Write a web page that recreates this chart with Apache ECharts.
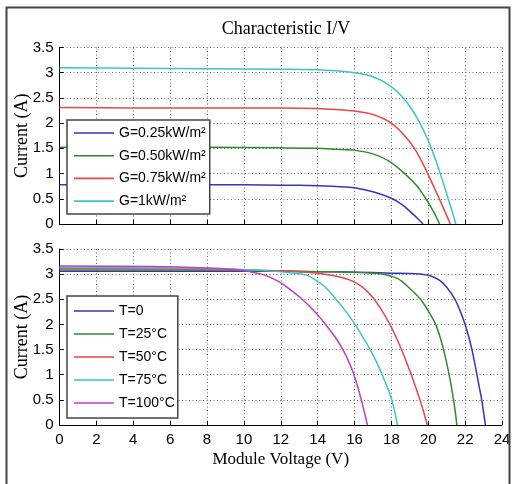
<!DOCTYPE html>
<html>
<head>
<meta charset="utf-8">
<script src="https://cdn.jsdelivr.net/npm/echarts@6/dist/echarts.min.js"></script>
<style>html,body{margin:0;padding:0;background:#fff}#c{width:512px;height:484px}</style>
</head>
<body>
<div id="c"></div>
<script>
// ---- data (V, I) pairs ----
const xTicks = [0,2,4,6,8,10,12,14,16,18,20,22,24];
const irrNames = ['G=0.25kW/m²','G=0.50kW/m²','G=0.75kW/m²','G=1kW/m²'];
const tempNames = ['T=0','T=25°C','T=50°C','T=75°C','T=100°C'];

const g025 = [[0,0.78],[4,0.78],[8,0.78],[12,0.77],[14,0.76],[15,0.745],[16,0.72],[17,0.64],[18,0.51],[18.6,0.38],[19.1,0.22],[19.45,0.1],[19.72,0]];
const g050 = [[0,1.52],[4,1.52],[8,1.52],[12,1.51],[14,1.5],[15,1.48],[16,1.46],[17,1.39],[17.85,1.25],[18.72,1.0],[19.4,0.75],[19.87,0.5],[20.28,0.25],[20.62,0]];
const g075 = [[0,2.31],[4,2.3],[8,2.3],[12,2.3],[14,2.29],[15,2.27],[16,2.24],[17,2.17],[18,2.0],[18.72,1.75],[19.25,1.5],[19.63,1.25],[19.97,1.0],[20.29,0.75],[20.6,0.5],[20.9,0.25],[21.2,0]];
const g100 = [[0,3.1],[4,3.09],[8,3.08],[12,3.07],[14,3.06],[15,3.04],[16,3.0],[17,2.92],[17.9,2.75],[18.65,2.5],[19.15,2.25],[19.55,2.0],[19.88,1.75],[20.17,1.5],[20.42,1.25],[20.65,1.0],[20.87,0.75],[21.08,0.5],[21.3,0.25],[21.5,0]];

const t0   = [[0,3.06],[6,3.06],[10,3.06],[14,3.05],[16,3.04],[18,3.02],[19.3,3.01],[20.1,2.97],[20.6,2.88],[21.0,2.74],[21.45,2.5],[21.75,2.25],[22.0,2.0],[22.2,1.75],[22.37,1.5],[22.51,1.25],[22.64,1.0],[22.77,0.75],[22.9,0.5],[23.0,0.25],[23.1,0]];
const t25  = [[0,3.08],[6,3.08],[10,3.07],[14,3.05],[16,3.04],[17,3.02],[17.7,2.99],[18.35,2.91],[18.9,2.75],[19.58,2.5],[20.03,2.25],[20.4,2.0],[20.64,1.75],[20.83,1.5],[20.99,1.25],[21.13,1.0],[21.26,0.75],[21.37,0.5],[21.47,0.25],[21.55,0]];
const t50  = [[0,3.11],[6,3.1],[10,3.08],[13,3.05],[14,3.02],[14.9,2.97],[15.7,2.89],[16.4,2.75],[17.07,2.5],[17.53,2.25],[17.92,2.0],[18.25,1.75],[18.55,1.5],[18.82,1.25],[19.08,1.0],[19.32,0.75],[19.55,0.5],[19.76,0.25],[19.95,0]];
const t75  = [[0,3.13],[6,3.12],[9,3.1],[11.5,3.06],[12.5,3.03],[13.4,2.98],[13.9,2.88],[14.4,2.75],[15.0,2.5],[15.55,2.25],[16.03,2.0],[16.45,1.75],[16.85,1.5],[17.2,1.25],[17.5,1.0],[17.78,0.75],[18.02,0.5],[18.19,0.25],[18.33,0]];
const t100 = [[0,3.16],[5,3.15],[8,3.12],[9.5,3.09],[10.3,3.05],[11.06,2.99],[11.9,2.85],[12.3,2.75],[13.16,2.5],[13.85,2.25],[14.43,2.0],[14.95,1.75],[15.37,1.5],[15.7,1.25],[15.97,1.0],[16.18,0.75],[16.37,0.5],[16.54,0.25],[16.7,0]];

const colors = ['#3535c0','#2f8a2f','#e84545','#38c6c6','#c03cc0'];
const sans = "'Liberation Sans',Arial,sans-serif";
const serif = "'Liberation Serif','Times New Roman',serif";

function mkX(idx, showLabels){
  return {
    type:'value', gridIndex:idx, min:0, max:24, interval:2,
    axisLine:{show:true,lineStyle:{color:'#000',width:1}},
    axisTick:{show:true,inside:true,length:4,lineStyle:{color:'#000'}},
    axisLabel:{show:showLabels,color:'#000',fontFamily:sans,fontSize:15,margin:7},
    splitLine:{show:true,lineStyle:{color:'#666',type:[1,2.5],width:1}},
    name: showLabels ? 'Module Voltage (V)' : '',
    nameLocation:'middle', nameGap:26, nameMoveOverlap:false,
    nameTextStyle:{color:'#000',fontFamily:serif,fontSize:17}
  };
}
function mkY(idx){
  return {
    type:'value', gridIndex:idx, min:0, max:3.5, interval:0.5,
    axisLine:{show:true,lineStyle:{color:'#000',width:1}},
    axisTick:{show:true,inside:true,length:4,lineStyle:{color:'#000'}},
    axisLabel:{color:'#000',fontFamily:sans,fontSize:15,margin:6},
    splitLine:{show:true,lineStyle:{color:'#666',type:[1,2.5],width:1}},
    name:'Current (A)', nameLocation:'middle', nameGap:28, nameMoveOverlap:false,
    nameTextStyle:{color:'#000',fontFamily:serif,fontSize:18}
  };
}
function mkS(name, data, c, axis){
  return {name, type:'line', data, xAxisIndex:axis, yAxisIndex:axis,
    symbol:'none', showSymbol:false, smooth:0.3,
    lineStyle:{color:c,width:1.5}, itemStyle:{color:c}};
}
const lineIcon = 'path://M0,0H40V1.6H0Z';

const chart = echarts.init(document.getElementById('c'), null, {renderer:'canvas'});
chart.setOption({
  animation:false,
  backgroundColor:'#fff',
  title:{text:'Characteristic I/V', left:281, textAlign:'center', top:15,
    textStyle:{color:'#000',fontFamily:serif,fontSize:18,fontWeight:'normal'}},
  grid:[
    {left:59.5, right:10, top:47.5, height:176.5, containLabel:false, outerBoundsMode:'none'},
    {left:59.5, right:10, top:249, height:176, containLabel:false, outerBoundsMode:'none'}
  ],
  xAxis:[mkX(0,false), mkX(1,true)],
  yAxis:[mkY(0), mkY(1)],
  legend:[
    {data:irrNames, orient:'vertical', left:67, top:120, selectedMode:false,
     icon:lineIcon, symbolKeepAspect:true,
     itemWidth:40, itemHeight:14, itemGap:8.7, itemTextGap:4,
     backgroundColor:'#fff', borderColor:'#444', borderWidth:1.5, padding:[6,4,6,7],
     textStyle:{color:'#000',fontFamily:sans,fontSize:14}},
    {data:tempNames, orient:'vertical', left:67, top:296, selectedMode:false,
     icon:lineIcon, symbolKeepAspect:true,
     itemWidth:40, itemHeight:14, itemGap:9, itemTextGap:4,
     backgroundColor:'#fff', borderColor:'#444', borderWidth:1.5, padding:[8,3,8,7],
     textStyle:{color:'#000',fontFamily:sans,fontSize:14}}
  ],
  series:[
    mkS(irrNames[0], g025, colors[0], 0),
    mkS(irrNames[1], g050, colors[1], 0),
    mkS(irrNames[2], g075, colors[2], 0),
    mkS(irrNames[3], g100, colors[3], 0),
    mkS(tempNames[0], t0, colors[0], 1),
    mkS(tempNames[1], t25, colors[1], 1),
    mkS(tempNames[2], t50, colors[2], 1),
    mkS(tempNames[3], t75, colors[3], 1),
    mkS(tempNames[4], t100, colors[4], 1)
  ],
  graphic:[
    {type:'rect', z:100, silent:true,
     shape:{x:6.5, y:7.5, width:503, height:500},
     style:{fill:'none', stroke:'#444', lineWidth:2}}
  ]
});
</script>
</body>
</html>
